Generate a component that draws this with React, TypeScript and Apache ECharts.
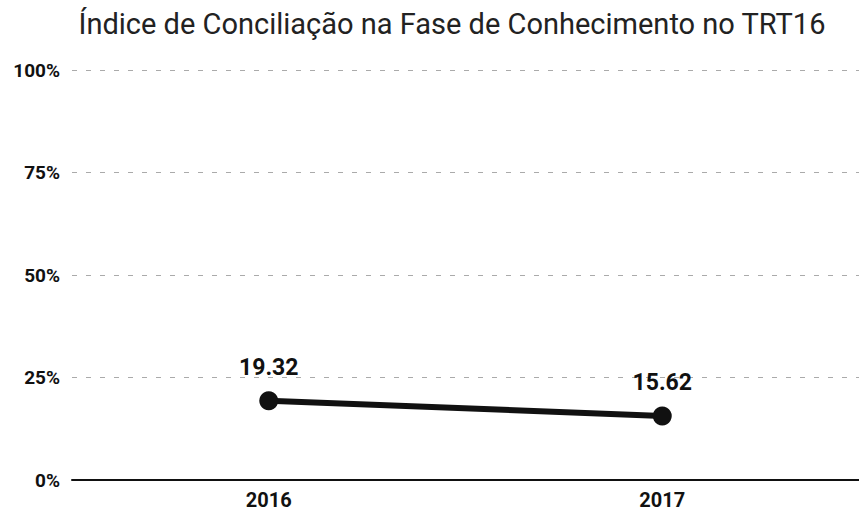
import React, { useEffect, useRef } from "react";
import * as echarts from "echarts";

const titleText = "Índice de Conciliação na Fase de Conhecimento no TRT16";
const years = ["2016", "2017"];
const conciliationIndex = [19.32, 15.62];
const yTicks = [0, 25, 50, 75, 100];

export default function App() {
  const ref = useRef<HTMLDivElement>(null);
  useEffect(() => {
    if (!ref.current) return;
    const chart = echarts.init(ref.current, null, { renderer: "svg" });
    chart.setOption({
      animation: false,
      backgroundColor: "#ffffff",
      graphic: [
        {
          type: "text",
          x: 452,
          y: 24,
          style: {
            text: titleText,
            textAlign: "center",
            textVerticalAlign: "middle",
            fontFamily: "Roboto",
            fontSize: 29,
            fontWeight: "normal",
            fill: "#222",
          },
        },
      ],
      grid: { left: 72, right: 0, top: 70, bottom: 32 },
      xAxis: {
        type: "category",
        data: years,
        boundaryGap: true,
        axisLine: { show: true, lineStyle: { color: "#111", width: 2 } },
        axisTick: { show: false },
        axisLabel: {
          fontFamily: "Roboto",
          fontWeight: "bold",
          fontSize: 20,
          color: "#111",
          margin: 10,
        },
      },
      yAxis: {
        type: "value",
        min: yTicks[0],
        max: yTicks[yTicks.length - 1],
        interval: 25,
        axisLine: { show: false },
        axisTick: { show: false },
        axisLabel: {
          formatter: "{value}%",
          fontFamily: "Roboto",
          fontWeight: "bold",
          fontSize: 19,
          color: "#111",
          margin: 12,
        },
        splitLine: {
          show: true,
          lineStyle: { color: "#aaa", width: 1, type: [5, 9] },
        },
      },
      series: [
        {
          type: "line",
          data: conciliationIndex,
          symbol: "circle",
          symbolSize: 19,
          lineStyle: { color: "#111", width: 6 },
          itemStyle: { color: "#111" },
          label: {
            show: true,
            position: "top",
            distance: 12,
            fontFamily: "Roboto",
            fontWeight: "bold",
            fontSize: 23,
            color: "#111",
            formatter: (p: any) => p.value.toFixed(2),
          },
        },
      ],
    });
    return () => chart.dispose();
  }, []);
  return (
    <div
      ref={ref}
      style={{ position: "absolute", left: 0, top: 0, width: 859, height: 512 }}
    />
  );
}
